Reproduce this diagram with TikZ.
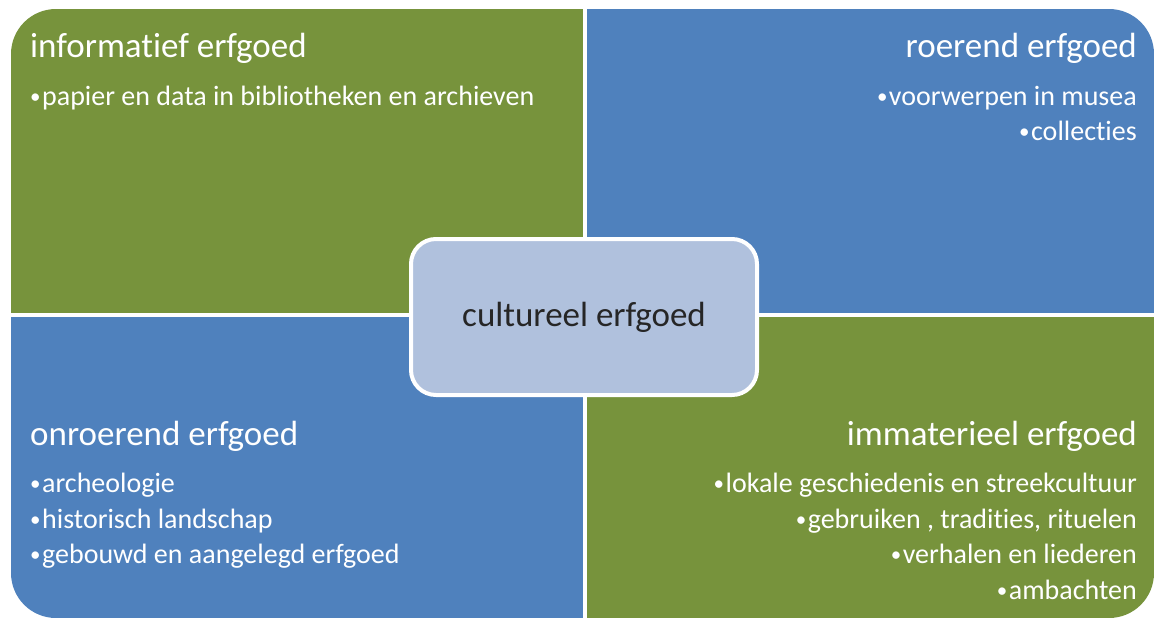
\documentclass[tikz,border=0pt]{standalone}
\usepackage{fontspec}
\setmainfont{Carlito}[Ligatures=NoCommon]
\definecolor{quadgreen}{HTML}{77933C}
\definecolor{quadblue}{HTML}{4F81BD}
\definecolor{corefill}{HTML}{B0C1DD}
\newcommand\itemdot{\raisebox{2pt}{\fontsize{21}{21}\selectfont •}\hspace{1.5pt}}
\tikzset{
  quad/.style={anchor=north west,inner sep=0pt,minimum width=572pt,minimum height=304pt},
  heading/.style={text=white,inner sep=0pt,font=\fontsize{35}{42}\selectfont},
  item/.style={text=white,inner sep=0pt,font=\fontsize{28}{35}\selectfont},
}
\begin{document}
\begin{tikzpicture}[x=1pt,y=-1pt]
\useasboundingbox (0,0) rectangle (1160,621);
% the four fields, only the outer corners rounded
\begin{scope}
  \clip[rounded corners=45pt] (11,9) rectangle (1154,618);
  \node[quad,fill=quadgreen] (info) at (11,9) {};
  \node[quad,fill=quadblue,minimum width=567pt] (roer) at (587,9) {};
  \node[quad,fill=quadblue,minimum height=301pt] (onroer) at (11,317) {};
  \node[quad,fill=quadgreen,minimum width=567pt,minimum height=301pt] (immat) at (587,317) {};
\end{scope}
% texts
\node[heading,anchor=base west] (infotitle) at (30,57) {informatief erfgoed};
\node[item,anchor=base west] (info1) at (30,105) {\itemdot papier en data in bibliotheken en archieven};
\node[heading,anchor=base east] (roertitle) at (1137,57) {roerend erfgoed};
\foreach \txt [count=\i] in {voorwerpen in musea, collecties}
  \node[item,anchor=base east] (roer\i) at (1137,{70+35*\i}) {\itemdot\txt};
\node[heading,anchor=base west] (onroertitle) at (30,445) {onroerend erfgoed};
\foreach \txt [count=\i] in {archeologie, historisch landschap, gebouwd en aangelegd erfgoed}
  \node[item,anchor=base west] (onroer\i) at (30,{457+35.5*\i}) {\itemdot\txt};
\node[heading,anchor=base east] (immattitle) at (1137,445) {immaterieel erfgoed};
\foreach \txt [count=\i] in {lokale geschiedenis en streekcultuur, {gebruiken , tradities, rituelen}, verhalen en liederen, ambachten}
  \node[item,anchor=base east] (immat\i) at (1137,{457+35.5*\i}) {\itemdot\txt};
% centre
\node[draw=white,line width=4pt,fill=corefill,rounded corners=25pt,minimum width=346pt,minimum height=156pt,
  text=black!85,font=\fontsize{35}{42}\selectfont] (core) at (584,317) {cultureel erfgoed};
\end{tikzpicture}
\end{document}
